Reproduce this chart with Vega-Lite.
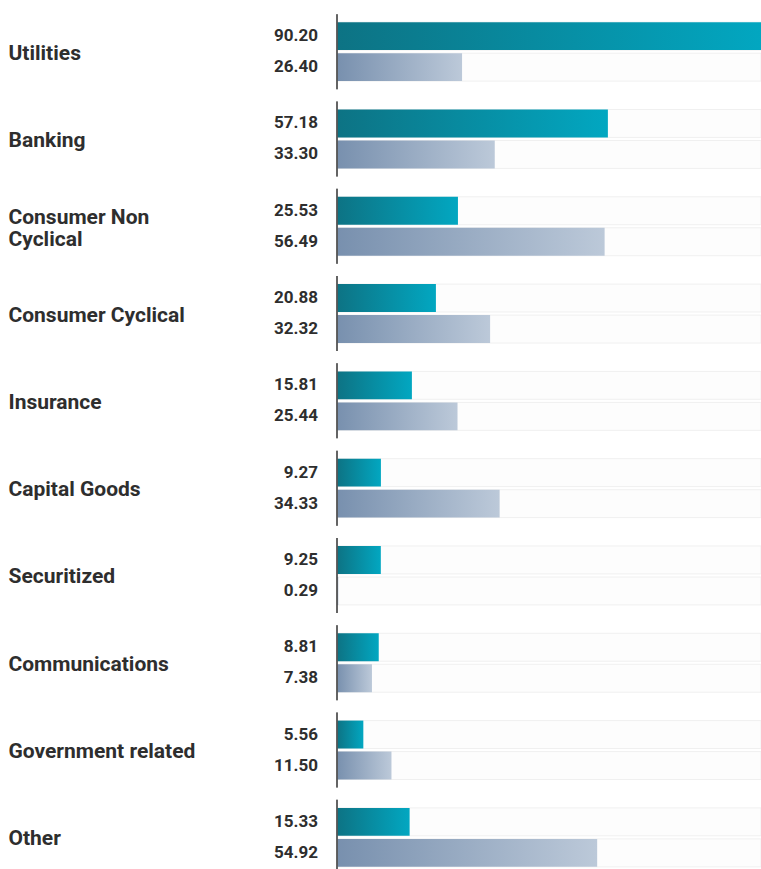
{
  "$schema": "https://vega.github.io/schema/vega-lite/v6.json",
  "width": 424,
  "height": 861,
  "autosize": "none",
  "padding": {"left": 337, "top": 8, "right": 0, "bottom": 0},
  "background": "white",
  "config": {"view": {"stroke": null}, "font": "Roboto"},
  "data": {
    "values": [
      {"sector": "Utilities", "series": "Fund", "value": 90.20},
      {"sector": "Utilities", "series": "Index", "value": 26.40},
      {"sector": "Banking", "series": "Fund", "value": 57.18},
      {"sector": "Banking", "series": "Index", "value": 33.30},
      {"sector": "Consumer Non Cyclical", "series": "Fund", "value": 25.53},
      {"sector": "Consumer Non Cyclical", "series": "Index", "value": 56.49},
      {"sector": "Consumer Cyclical", "series": "Fund", "value": 20.88},
      {"sector": "Consumer Cyclical", "series": "Index", "value": 32.32},
      {"sector": "Insurance", "series": "Fund", "value": 15.81},
      {"sector": "Insurance", "series": "Index", "value": 25.44},
      {"sector": "Capital Goods", "series": "Fund", "value": 9.27},
      {"sector": "Capital Goods", "series": "Index", "value": 34.33},
      {"sector": "Securitized", "series": "Fund", "value": 9.25},
      {"sector": "Securitized", "series": "Index", "value": 0.29},
      {"sector": "Communications", "series": "Fund", "value": 8.81},
      {"sector": "Communications", "series": "Index", "value": 7.38},
      {"sector": "Government related", "series": "Fund", "value": 5.56},
      {"sector": "Government related", "series": "Index", "value": 11.50},
      {"sector": "Other", "series": "Fund", "value": 15.33},
      {"sector": "Other", "series": "Index", "value": 54.92}
    ]
  },
  "encoding": {
    "y": {
      "field": "sector",
      "type": "nominal",
      "sort": ["Utilities", "Banking", "Consumer Non Cyclical", "Consumer Cyclical", "Insurance", "Capital Goods", "Securitized", "Communications", "Government related", "Other"],
      "scale": {"range": [0, 873], "paddingInner": 0.14, "paddingOuter": 0.07},
      "axis": {
        "title": null,
        "domain": false,
        "ticks": false,
        "labelAlign": "left",
        "labelBaseline": "middle",
        "labelPadding": 329,
        "labelFontSize": 21,
        "labelFontWeight": "bold",
        "labelColor": "#2e2e2e",
        "labelLimit": 320,
        "labelLineHeight": 22,
        "labelOffset": {"condition": {"test": "datum.value == 'Consumer Non Cyclical'", "value": -8}, "value": 2},
        "labelExpr": "datum.label == 'Consumer Non Cyclical' ? ['Consumer Non', 'Cyclical'] : datum.label"
      }
    }
  },
  "layer": [
    {
      "mark": {"type": "bar", "fill": "#fdfdfd", "stroke": "#f0f0f0", "strokeWidth": 1},
      "encoding": {
        "x": {"datum": 89.5, "type": "quantitative", "scale": {"domain": [0, 89.5]}, "axis": null},
        "x2": {"datum": 0},
        "yOffset": {"field": "series", "type": "nominal", "sort": ["Fund", "Index"], "scale": {"paddingInner": 0.1, "paddingOuter": 0.26}}
      }
    },
    {
      "transform": [{"filter": "datum.series == 'Fund'"}],
      "mark": {
        "type": "bar",
        "clip": true,
        "color": {"gradient": "linear", "x1": 0, "y1": 0, "x2": 1, "y2": 0, "stops": [{"offset": 0, "color": "#0d7384"}, {"offset": 1, "color": "#02a7c1"}]}
      },
      "encoding": {
        "x": {"field": "value", "type": "quantitative", "scale": {"domain": [0, 89.5]}, "axis": null},
        "yOffset": {"field": "series", "type": "nominal", "sort": ["Fund", "Index"], "scale": {"paddingInner": 0.1, "paddingOuter": 0.26}}
      }
    },
    {
      "transform": [{"filter": "datum.series == 'Index'"}],
      "mark": {
        "type": "bar",
        "clip": true,
        "color": {"gradient": "linear", "x1": 0, "y1": 0, "x2": 1, "y2": 0, "stops": [{"offset": 0, "color": "#7890ae"}, {"offset": 1, "color": "#bcc9d9"}]}
      },
      "encoding": {
        "x": {"field": "value", "type": "quantitative", "scale": {"domain": [0, 89.5]}, "axis": null},
        "yOffset": {"field": "series", "type": "nominal", "sort": ["Fund", "Index"], "scale": {"paddingInner": 0.1, "paddingOuter": 0.26}}
      }
    },
    {
      "mark": {"type": "tick", "color": "#555555", "thickness": 2, "size": 75, "orient": "vertical"},
      "encoding": {
        "x": {"datum": 0, "type": "quantitative", "scale": {"domain": [0, 89.5]}}
      }
    },
    {
      "mark": {"type": "text", "align": "right", "baseline": "middle", "dx": -19, "fontSize": 17, "fontWeight": "bold", "color": "#2e2e2e"},
      "encoding": {
        "x": {"datum": 0, "type": "quantitative", "scale": {"domain": [0, 89.5]}},
        "yOffset": {"field": "series", "type": "nominal", "sort": ["Fund", "Index"], "scale": {"paddingInner": 0.1, "paddingOuter": 0.26}},
        "text": {"field": "value", "type": "quantitative", "format": ".2f"}
      }
    }
  ]
}
